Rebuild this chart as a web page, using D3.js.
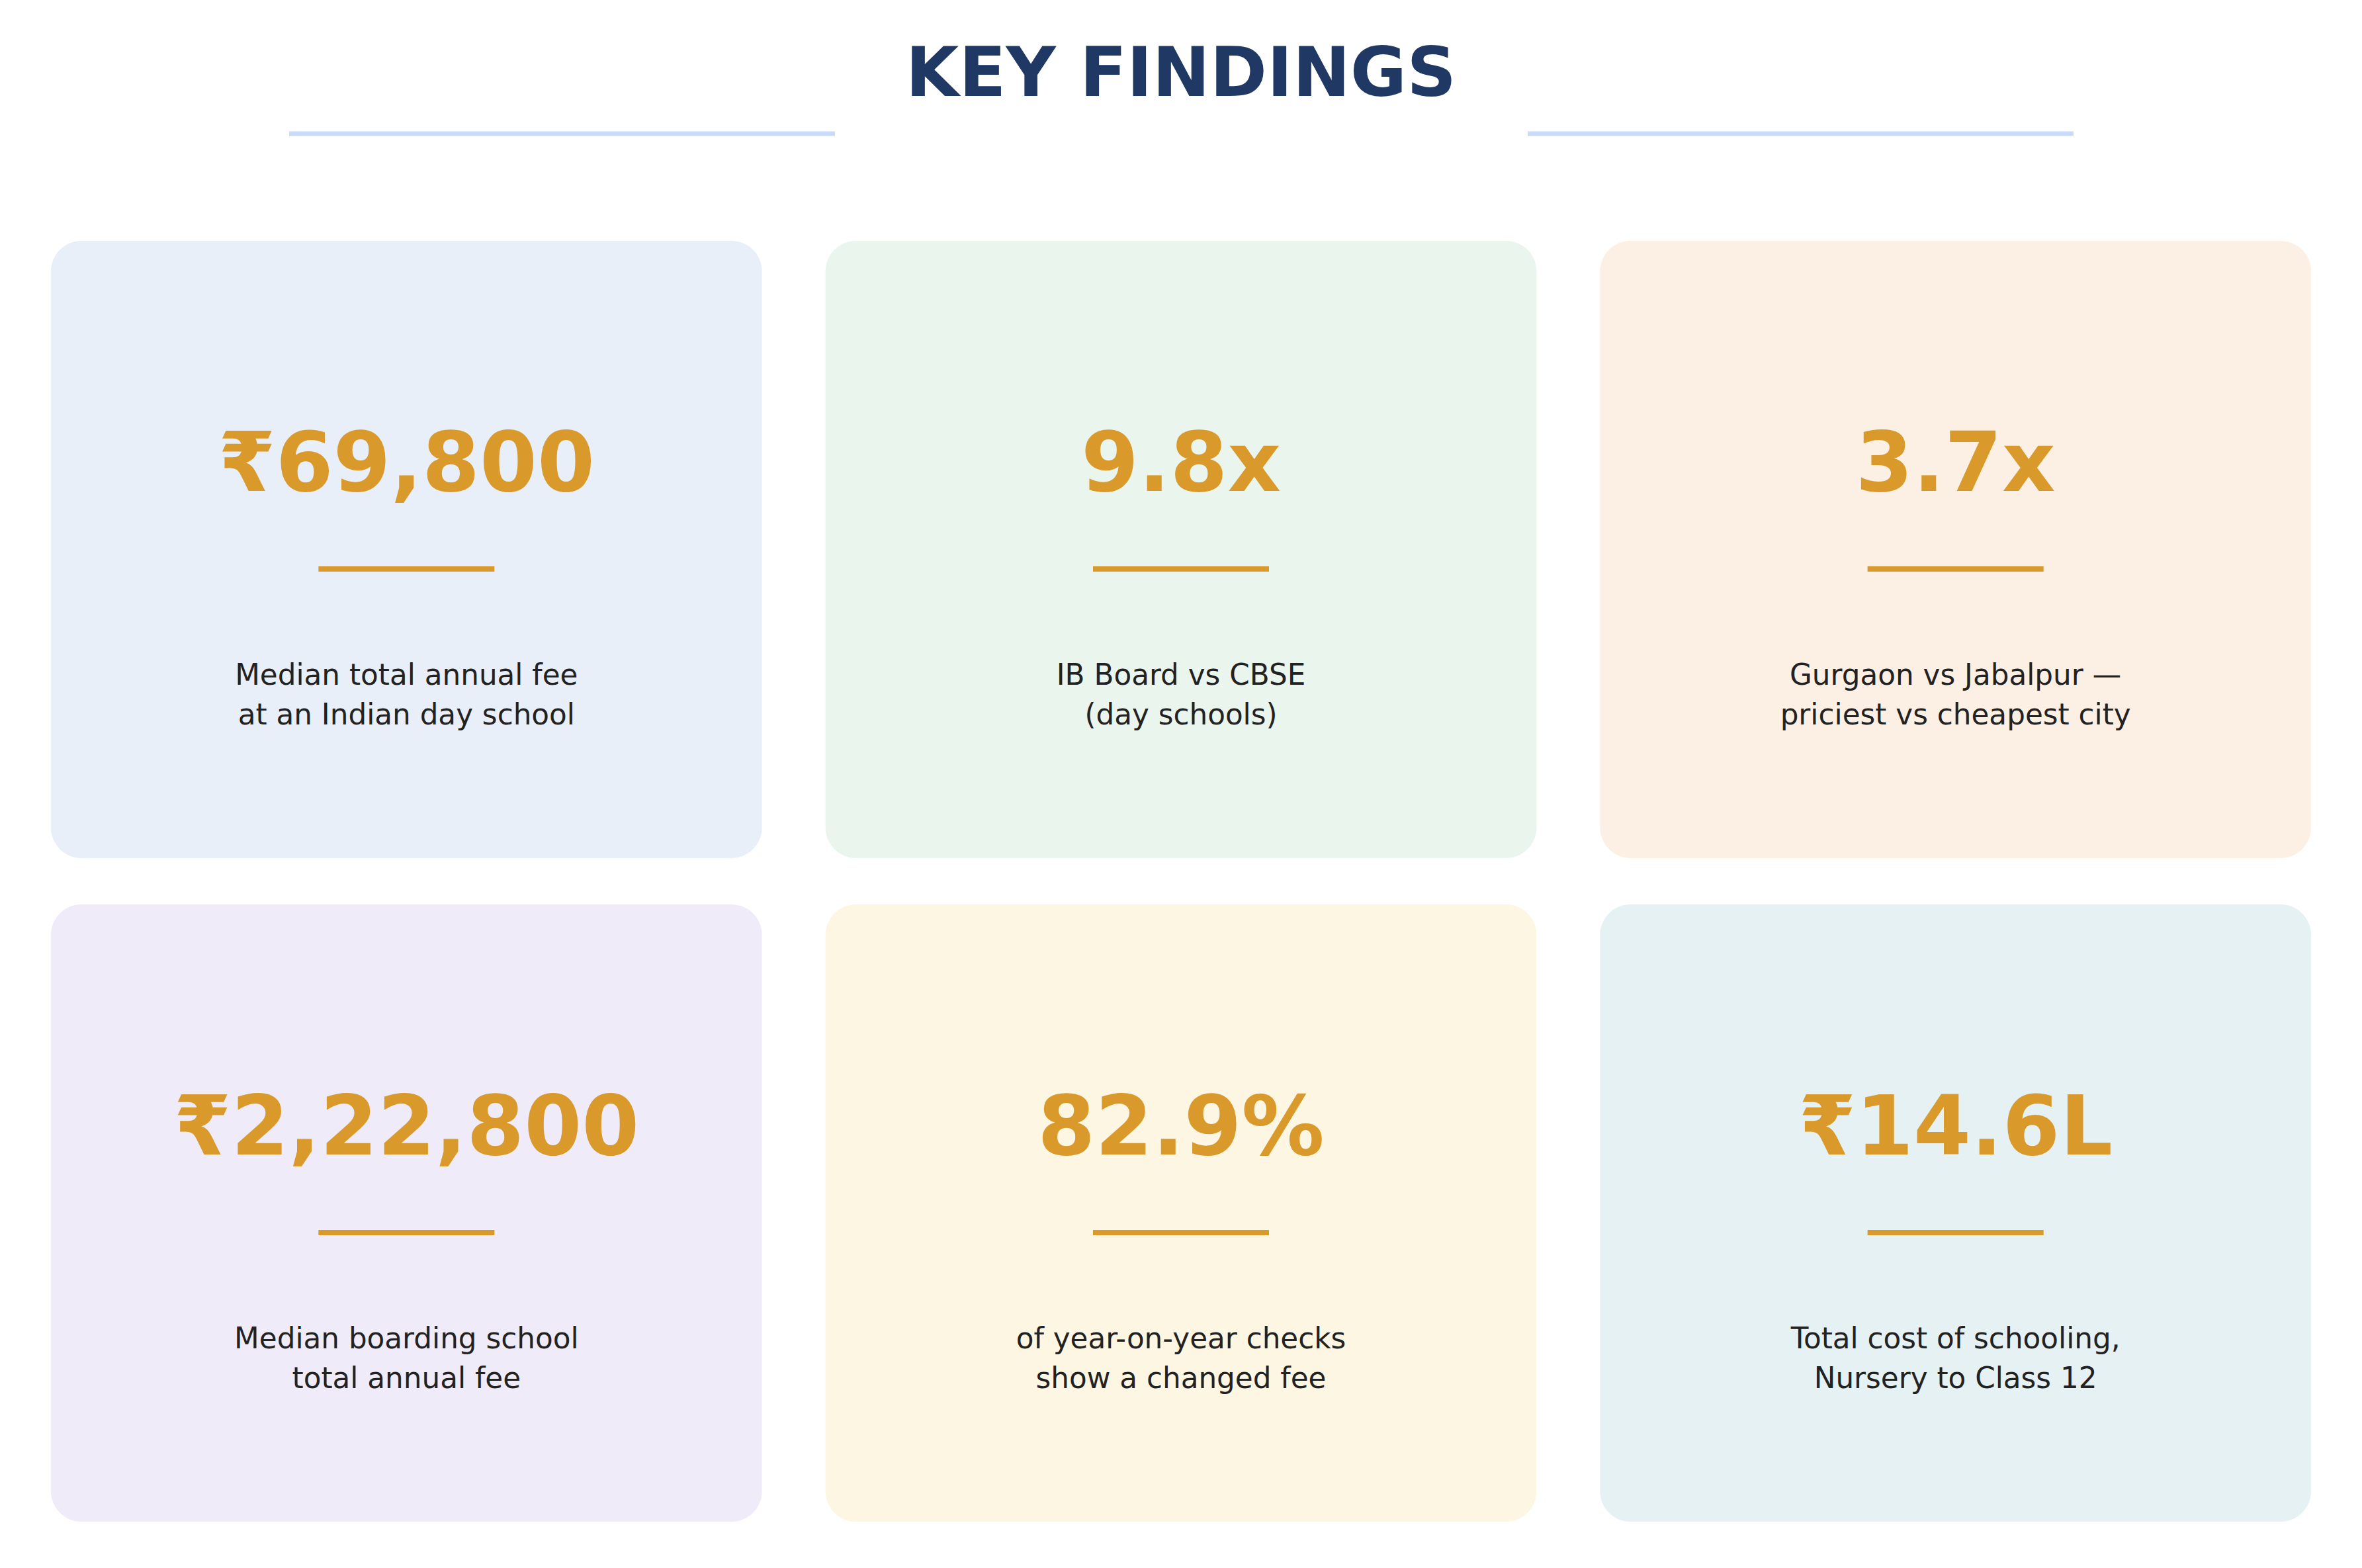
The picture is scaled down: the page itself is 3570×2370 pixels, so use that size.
<!DOCTYPE html>
<html>
<head>
<meta charset="utf-8">
<script src="https://cdn.jsdelivr.net/npm/d3@7"></script>
<style>
  html, body { margin: 0; padding: 0; background: #ffffff; }
  svg { display: block; font-family: "DejaVu Sans", sans-serif; }
</style>
</head>
<body>
<svg id="findings" width="3570" height="2370"></svg>
<script>
// card contents, row by row
var values = ["₹69,800", "9.8x", "3.7x", "₹2,22,800", "82.9%", "₹14.6L"];
var captions = [
    ["Median total annual fee", "at an Indian day school"],
    ["IB Board vs CBSE", "(day schools)"],
    ["Gurgaon vs Jabalpur —", "priciest vs cheapest city"],
    ["Median boarding school", "total annual fee"],
    ["of year-on-year checks", "show a changed fee"],
    ["Total cost of schooling,", "Nursery to Class 12"]
];
var cardColors = ["#e8eff9", "#eaf5ee", "#fcf0e4", "#efebf8", "#fdf6e3", "#e5f1f2"];

function drawFindings(){
    var svg = d3.select("#findings"),
        width = +svg.attr("width"),
        height = +svg.attr("height");

    var accent = "#d99a2b";

    // title + the two rules beside it
    svg.append("text")
        .attr("x", width / 2)
        .attr("y", 145)
        .attr("text-anchor", "middle")
        .style("font-size", "104px")
        .style("font-weight", "bold")
        .style("fill", "#1f3864")
        .text("KEY FINDINGS");

    [[437, 1262], [2309, 3134]].forEach(function(r){
        svg.append("line")
            .attr("x1", r[0]).attr("x2", r[1])
            .attr("y1", 202).attr("y2", 202)
            .style("stroke", "#c9dbf8")
            .style("stroke-width", 7);
    });

    // grid of cards
    var cols = d3.scaleBand().domain([0, 1, 2]).range([77, 3493]).paddingInner(0.082);
    var rows = d3.scaleBand().domain([0, 1]).range([364, 2300]).paddingInner(0.07);

    var cards = svg.selectAll("g.card")
        .data(values.map(function(v, i){ return {value: v, caption: captions[i], color: cardColors[i], i: i}; }))
        .enter().append("g")
        .attr("class", "card")
        .attr("transform", function(d){ return "translate(" + cols(d.i % 3) + "," + rows(Math.floor(d.i / 3)) + ")"; });

    var cw = cols.bandwidth(), ch = rows.bandwidth();

    cards.append("rect")
        .attr("width", cw)
        .attr("height", ch)
        .attr("rx", 46).attr("ry", 46)
        .style("fill", function(d){ return d.color; });

    cards.append("text")
        .attr("x", cw / 2)
        .attr("y", 378)
        .attr("text-anchor", "middle")
        .style("font-size", "125px")
        .style("font-weight", "bold")
        .style("fill", accent)
        .text(function(d){ return d.value; });

    cards.append("line")
        .attr("x1", cw / 2 - 133).attr("x2", cw / 2 + 133)
        .attr("y1", 496).attr("y2", 496)
        .style("stroke", accent)
        .style("stroke-width", 8);

    cards.append("text")
        .attr("text-anchor", "middle")
        .style("font-size", "43.7px")
        .style("fill", "#222222")
        .selectAll("tspan")
        .data(function(d){ return d.caption; })
        .enter().append("tspan")
        .attr("x", cw / 2)
        .attr("y", function(d, j){ return 671 + j * 60; })
        .text(function(d){ return d; });
}

drawFindings();
</script>
</body>
</html>
